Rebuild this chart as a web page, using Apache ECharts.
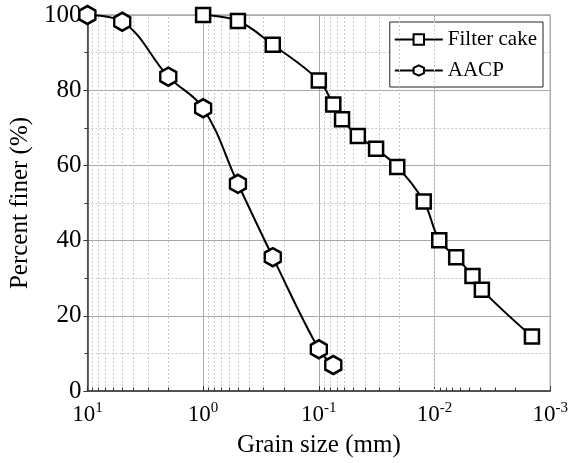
<!DOCTYPE html>
<html>
<head>
<meta charset="utf-8">
<script src="https://cdn.jsdelivr.net/npm/echarts@6/dist/echarts.min.js"></script>
<style>html,body{margin:0;padding:0;background:#fff}</style>
</head>
<body>
<div id="chart" style="width:571px;height:463px;"></div>
<script>
// grain size (mm) / percent finer
const cakeSize = [1, 0.5, 0.25, 0.1, 0.075, 0.063, 0.046, 0.032, 0.021, 0.0124, 0.0091, 0.0065, 0.0047, 0.0039, 0.00144];
const cakeFiner = [100, 98.4, 92.1, 82.6, 76.2, 72.3, 67.8, 64.4, 59.6, 50.4, 40.1, 35.6, 30.6, 26.9, 14.5];
const aacpSize = [10, 5, 2, 1, 0.5, 0.25, 0.1, 0.075];
const aacpFiner = [100, 98.2, 83.6, 75.2, 55.1, 35.6, 11.1, 6.9];
const xMin = 0.001, xMax = 10;

const chart = echarts.init(document.getElementById('chart'));
const font = 'Liberation Serif';
const hexagon = 'path://M0,-1L0.866,-0.5L0.866,0.5L0,1L-0.866,0.5L-0.866,-0.5Z';

// minor log gridlines 2..9 x 10^n and small ticks on the bottom
const minorX = [];
for (let d = xMin; d < xMax; d *= 10) {
  for (let k = 2; k <= 9; k++) minorX.push(+(d * k).toPrecision(3));
}

function pairs(xs, ys) { return xs.map((x, i) => [x, ys[i]]); }

chart.setOption({
  animation: false,
  textStyle: { fontFamily: font, color: '#000' },
  grid: { left: 87, right: 20, top: 15, bottom: 69, show: true, borderColor: '#777', borderWidth: 1 },
  legend: {
    orient: 'vertical', right: 28, top: 22,
    itemWidth: 48, itemHeight: 13, itemGap: 10,
    padding: [7, 6, 6, 4],
    backgroundColor: '#fff', borderColor: '#222', borderWidth: 1, borderRadius: 0,
    textStyle: { fontFamily: 'Liberation Serif, serif', fontSize: 21, color: '#000' },
    data: ['Filter cake', 'AACP']
  },
  xAxis: {
    type: 'log', logBase: 10, min: xMin, max: xMax, inverse: true,
    name: 'Grain size (mm)', nameLocation: 'middle', nameGap: 42,
    nameTextStyle: { fontFamily: font, fontSize: 25, color: '#000' },
    axisLine: { show: true, lineStyle: { color: '#333', width: 1.5 } },
    axisTick: { show: true, inside: true, length: 5, lineStyle: { color: '#333' } },
    axisLabel: {
      fontFamily: font, fontSize: 23, color: '#000', margin: 10,
      formatter: v => '10{sup|' + Math.round(Math.log10(v)) + '}',
      rich: { sup: { fontFamily: font, fontSize: 15, color: '#000', padding: [0, 0, 12, 0] } }
    },
    splitLine: { show: true, lineStyle: { color: '#aaa', width: 1 } }
  },
  yAxis: {
    type: 'value', min: 0, max: 100, interval: 20,
    name: 'Percent finer (%)', nameLocation: 'middle', nameGap: 40,
    nameTextStyle: { fontFamily: font, fontSize: 25, color: '#000' },
    axisLine: { show: true, lineStyle: { color: '#333', width: 1.5 } },
    axisTick: { show: true, length: 4, lineStyle: { color: '#333' } },
    axisLabel: { fontFamily: font, fontSize: 25, color: '#000', margin: 6 },
    splitLine: { show: true, lineStyle: { color: '#aaa', width: 1 } },
    minorTick: { show: true, splitNumber: 2, length: 3, lineStyle: { color: '#333' } },
    minorSplitLine: { show: true, lineStyle: { color: '#ccc', type: [2, 2], width: 1 } }
  },
  series: [
    {
      name: 'grid', type: 'line', data: [], silent: true, z: 1,
      markLine: {
        silent: true, symbol: 'none', animation: false,
        label: { show: false },
        lineStyle: { color: '#ccc', type: [2, 2], width: 1 },
        data: minorX.map(v => ({ xAxis: v }))
      }
    },
    {
      name: 'ticks', type: 'line', data: [], silent: true, z: 2,
      markLine: {
        silent: true, symbol: 'none', animation: false,
        label: { show: false },
        lineStyle: { color: '#333', type: 'solid', width: 1 },
        data: minorX.map(v => [{ coord: [v, 0] }, { coord: [v, 0.9] }])
      }
    },
    {
      name: 'Filter cake', type: 'line', smooth: 0.4, z: 5,
      data: pairs(cakeSize, cakeFiner),
      symbol: 'rect', symbolSize: 14,
      lineStyle: { color: '#000', width: 2 },
      itemStyle: { color: '#fff', borderColor: '#000', borderWidth: 2.5 }
    },
    {
      name: 'AACP', type: 'line', smooth: 0.4, z: 5,
      data: pairs(aacpSize, aacpFiner),
      symbol: hexagon, symbolSize: [16, 18],
      lineStyle: { color: '#000', width: 2 },
      itemStyle: { color: '#fff', borderColor: '#000', borderWidth: 2.5 }
    }
  ]
});
</script>
</body>
</html>
